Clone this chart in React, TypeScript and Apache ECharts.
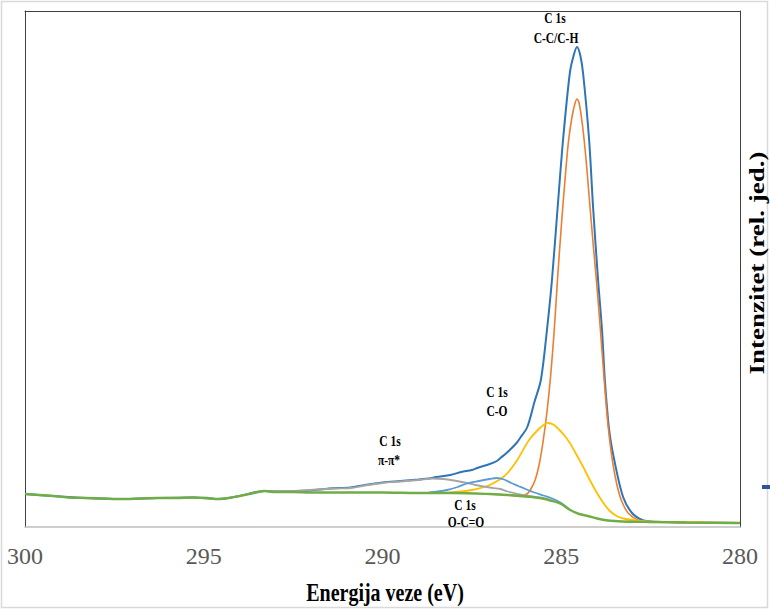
import React, { useEffect, useRef } from "react";
import * as echarts from "echarts";

// Binding energy (eV) / intensity (rel. units)
const background: [number, number][] = [
  [300.0, 33], [299.6, 32], [299.2, 31], [298.8, 29.5], [298.3, 29], [297.8, 28.5], [297.3, 28],
  [296.8, 28.5], [296.3, 29], [295.8, 29], [295.3, 29.5], [294.9, 29], [294.6, 28], [294.3, 29],
  [294.0, 31], [293.6, 34], [293.3, 36], [293.0, 35], [292.5, 35], [292.0, 34.5], [291.0, 34.5],
  [290.0, 34.5], [289.0, 34], [288.0, 34], [287.0, 33], [286.5, 32], [286.0, 30.5], [285.6, 29],
  [285.25, 26], [285.0, 23], [284.75, 17], [284.5, 13], [284.25, 11], [284.0, 8.5], [283.7, 6.5],
  [283.3, 5.5], [282.5, 5], [281.5, 4.5], [280.0, 4],
];

const total: [number, number][] = [
  [300.0, 33], [299.2, 31], [298.3, 29], [297.3, 28], [296.3, 29], [295.3, 29.5], [294.6, 28],
  [294.0, 31], [293.3, 36], [293.0, 35.5], [292.5, 35.5], [292.0, 36.5], [291.5, 38.5], [290.9, 39.5],
  [290.5, 42], [290.0, 44.5], [289.5, 46], [289.0, 47.5], [288.7, 48.5], [288.5, 50], [288.1, 52],
  [287.8, 55], [287.5, 57], [287.35, 59], [287.0, 63], [286.8, 66], [286.7, 69], [286.5, 75],
  [286.25, 84], [286.15, 89], [285.95, 100], [285.75, 125], [285.57, 147], [285.4, 197],
  [285.26, 247], [285.1, 320], [284.95, 387], [284.76, 454], [284.65, 472], [284.56, 480],
  [284.47, 472], [284.39, 454], [284.22, 387], [284.11, 320], [283.97, 247], [283.86, 197],
  [283.78, 147], [283.66, 97], [283.5, 64], [283.27, 30], [283.02, 14], [282.74, 7], [282.5, 5.5],
  [282.0, 5], [281.5, 4.5], [280.0, 4],
];

const ccch: [number, number][] = [
  [287.0, 33], [286.5, 32], [286.15, 30.5], [285.96, 33], [285.85, 38], [285.73, 47], [285.62, 62],
  [285.51, 85], [285.4, 115], [285.3, 150], [285.2, 195], [285.1, 250], [285.0, 300], [284.9, 345],
  [284.8, 385], [284.7, 410], [284.62, 423], [284.56, 428], [284.5, 424], [284.4, 400], [284.3, 365],
  [284.2, 322], [284.1, 280], [284.0, 240], [283.9, 195], [283.8, 148], [283.7, 105], [283.6, 74],
  [283.5, 52], [283.4, 36], [283.3, 25], [283.13, 14], [282.85, 7], [282.5, 5.5], [282.0, 5],
  [280.0, 4],
];

const co: [number, number][] = [
  [288.5, 34], [288.1, 34.5], [287.8, 35.5], [287.5, 37], [287.2, 39.5], [287.0, 42], [286.7, 48],
  [286.5, 54], [286.25, 66], [286.1, 75], [285.9, 87], [285.6, 99], [285.45, 103], [285.37, 104],
  [285.2, 102], [285.05, 97], [284.9, 91], [284.76, 84], [284.6, 74], [284.4, 61], [284.2, 47],
  [284.0, 34], [283.8, 23], [283.64, 16], [283.45, 11], [283.27, 8.5], [282.8, 6], [282.3, 5],
  [280.0, 4],
];

const oco: [number, number][] = [
  [288.7, 34.5], [288.45, 35.5], [288.2, 37], [287.9, 40], [287.64, 43.5], [287.3, 46], [287.0, 48],
  [286.8, 49], [286.6, 47.5], [286.4, 44], [286.2, 41], [286.0, 38], [285.75, 34.5], [285.5, 31.5],
  [285.25, 28.5], [285.0, 24], [284.75, 17],
];

const pipi: [number, number][] = [
  [293.2, 35.5], [292.8, 35.5], [292.3, 36.5], [291.8, 37.5], [291.3, 38.5], [290.9, 39],
  [290.5, 41.5], [290.0, 44], [289.5, 45.5], [289.0, 47], [288.6, 48.5], [288.3, 48], [288.0, 46.5],
  [287.7, 44.5], [287.4, 42], [287.0, 39.5], [286.7, 38], [286.5, 35.5], [286.0, 31.5], [285.5, 29],
  [285.25, 26],
];

const xTicks = { min: 280, max: 300, interval: 5 };
const yRange = { min: 0, max: 516 };

const FONT = "Liberation Serif";

function App() {
  const ref = useRef<HTMLDivElement>(null);

  useEffect(() => {
    if (!ref.current) return;
    const chart = echarts.init(ref.current, undefined, { renderer: "svg" });

    const line = (name: string, data: [number, number][], color: string, width: number, z: number) => ({
      name,
      type: "line",
      data,
      showSymbol: false,
      smooth: 0.3,
      z,
      lineStyle: { color, width },
      itemStyle: { color },
      xAxisIndex: 0,
      yAxisIndex: 0,
    });

    const annot = (text: string, x: number, y: number) => ({
      type: "text",
      x,
      y,
      scaleX: 0.82,
      silent: true,
      z: 100,
      style: {
        text,
        fill: "#000",
        fontSize: 14,
        fontWeight: "bold",
        fontFamily: FONT,
        align: "center",
        verticalAlign: "middle",
      },
    });

    const hiddenAxis = {
      axisTick: { show: false },
      axisLabel: { show: false },
      splitLine: { show: false },
    };

    chart.setOption({
      animation: false,
      backgroundColor: "#ffffff",
      grid: { left: 25, right: 30, top: 11, bottom: 86, containLabel: false },
      xAxis: [
        {
          type: "value",
          min: xTicks.min,
          max: xTicks.max,
          interval: xTicks.interval,
          inverse: true,
          position: "bottom",
          axisLine: { show: true, onZero: false, lineStyle: { color: "#bfbfbf", width: 1.5 } },
          axisTick: { show: false },
          splitLine: { show: false },
          axisLabel: {
            color: "#595959",
            fontSize: 24,
            fontFamily: FONT,
            margin: 17,
          },
        },
        {
          type: "value",
          min: xTicks.min,
          max: xTicks.max,
          inverse: true,
          position: "top",
          axisLine: { show: true, onZero: false, lineStyle: { color: "#404040", width: 1 } },
          ...hiddenAxis,
        },
      ],
      yAxis: [
        {
          type: "value",
          min: yRange.min,
          max: yRange.max,
          position: "left",
          axisLine: { show: true, onZero: false, lineStyle: { color: "#404040", width: 1 } },
          ...hiddenAxis,
        },
        {
          type: "value",
          min: yRange.min,
          max: yRange.max,
          position: "right",
          axisLine: { show: true, onZero: false, lineStyle: { color: "#404040", width: 1 } },
          ...hiddenAxis,
        },
      ],
      series: [
        line("Ukupno", total, "#2E75B6", 2, 2),
        line("C-C/C-H", ccch, "#ED7D31", 1.6, 3),
        line("C-O", co, "#FFC000", 1.8, 4),
        line("π-π*", pipi, "#A5A5A5", 1.8, 5),
        line("O-C=O", oco, "#5B9BD5", 1.8, 6),
        line("Pozadina", background, "#70AD47", 2.4, 7),
      ],
      graphic: [
        {
          type: "rect",
          silent: true,
          z: -10,
          shape: { x: 1.5, y: 1.5, width: 766, height: 606 },
          style: { fill: "none", stroke: "#d9d9d9", lineWidth: 1.5 },
        },
        annot("C 1s", 555, 19),
        annot("C-C/C-H", 556, 39),
        annot("C 1s", 497, 393),
        annot("C-O", 497, 412),
        annot("C 1s", 390, 442),
        annot("π-π*", 389, 461),
        annot("C 1s", 465, 506),
        annot("O-C=O", 466, 523),
        {
          type: "text",
          x: 385,
          y: 593,
          scaleX: 0.8,
          silent: true,
          style: {
            text: "Energija veze (eV)",
            fill: "#000",
            fontSize: 25,
            fontWeight: "bold",
            fontFamily: FONT,
            align: "center",
            verticalAlign: "middle",
          },
        },
        {
          type: "text",
          x: 756,
          y: 263,
          rotation: Math.PI / 2,
          scaleY: 0.8,
          silent: true,
          style: {
            text: "Intenzitet (rel. jed.)",
            fill: "#000",
            fontSize: 27,
            fontWeight: "bold",
            fontFamily: FONT,
            align: "center",
            verticalAlign: "middle",
          },
        },
        {
          type: "rect",
          silent: true,
          shape: { x: 762, y: 485, width: 8, height: 4 },
          style: { fill: "#2F5597" },
        },
      ],
    });

    return () => {
      chart.dispose();
    };
  }, []);

  return (
    <div
      ref={ref}
      style={{ position: "fixed", left: 0, top: 0, width: 770, height: 613, background: "#fff" }}
    />
  );
}

export default App;
